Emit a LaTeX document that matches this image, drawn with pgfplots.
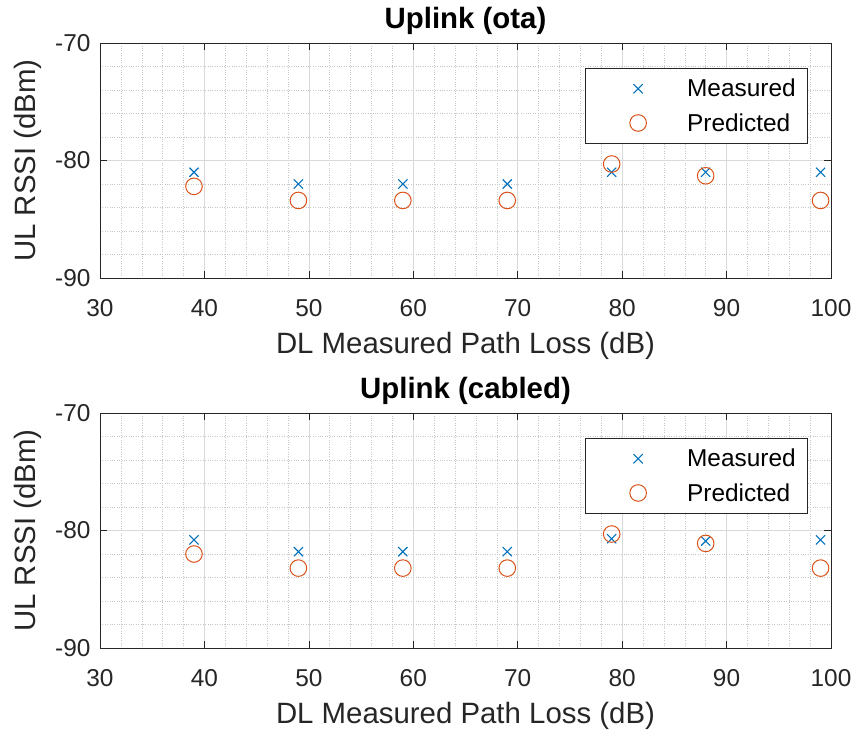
\documentclass[border=0pt]{standalone}
\usepackage{pgfplots}
\pgfplotsset{compat=1.18}
\usepackage{fontspec}
\setmainfont{Liberation Sans}
\definecolor{mblue}{HTML}{0072BD}
\definecolor{morange}{HTML}{D95319}
\definecolor{axgray}{HTML}{262626}
\pgfplotstableread{
x meas pred
39 -81.0 -82.2
49 -82.0 -83.4
59 -82.0 -83.4
69 -82.0 -83.4
79 -81.0 -80.3
88 -81.0 -81.3
99 -81.0 -83.4
}\ota
\pgfplotstableread{
x meas pred
39 -80.8 -82.0
49 -81.8 -83.2
59 -81.8 -83.2
69 -81.8 -83.2
79 -80.7 -80.3
88 -80.9 -81.1
99 -80.8 -83.2
}\cabled
\pgfplotsset{
  mystyle/.style={
    scale only axis, width=731bp, height=235bp,
    xmin=30, xmax=100, ymin=-90, ymax=-70,
    xtick={30,40,...,100}, ytick={-90,-80,-70},
    minor x tick num=4, minor y tick num=4,
    grid=both,
    major grid style={color=black!15, line width=0.5pt},
    minor grid style={color=black!22, dotted, line width=0.5pt},
    axis line style={color=axgray, line width=0.6pt},
    tick style={color=axgray, line width=0.6pt},
    major tick length=7bp, minor tick length=0pt,
    tick align=inside,
    xtick pos=both, ytick pos=both,
    tick label style={font=\fontsize{24.5}{28}\selectfont, text=axgray},
    /pgf/number format/assume math mode=true,
    xticklabel style={anchor=base, yshift=-38bp},
    yticklabel style={xshift=-6bp},
    label style={font=\fontsize{29.5}{33}\selectfont, text=axgray},
    xlabel={DL Measured Path Loss (dB)},
    ylabel={UL RSSI (dBm)},
    xlabel style={at={(axis description cs:0.5,-0.29)}, anchor=center},
    ylabel style={at={(axis description cs:-0.098,0.5)}, anchor=center, rotate=0},
    title style={font=\bfseries\fontsize{29.5}{33}\selectfont, at={(axis description cs:0.5,1)}, anchor=base, yshift=9bp},
    legend style={at={(axis description cs:0.9685,0.894)}, anchor=north east,
      font=\fontsize{24.5}{28}\selectfont, draw=axgray, line width=0.6pt, text=black,
      row sep=1bp, inner xsep=5bp, inner ysep=4bp,
      nodes={inner sep=7bp},
      /tikz/every even column/.append style={column sep=0bp}},
    legend cell align=left,
    legend image code/.code={\path[draw=none] (0bp,0bp) -- (90bp,0bp); \draw[#1] plot coordinates {(48bp,0bp)};},
  },
  meas/.style={only marks, mark=x, mark size=6.5bp, color=mblue, line width=1.1pt},
  pred/.style={only marks, mark=o, mark size=8.3bp, color=morange, line width=1pt},
}
\begin{document}
\begin{tikzpicture}
\begin{axis}[mystyle, at={(0bp,0bp)}, anchor=south west, title={Uplink (ota)}]
\addplot[meas] table[x=x,y=meas] {\ota};
\addlegendentry{Measured}
\addplot[pred] table[x=x,y=pred] {\ota};
\addlegendentry{Predicted}
\end{axis}
\begin{axis}[mystyle, at={(0bp,-370bp)}, anchor=south west, title={Uplink (cabled)}]
\addplot[meas] table[x=x,y=meas] {\cabled};
\addlegendentry{Measured}
\addplot[pred] table[x=x,y=pred] {\cabled};
\addlegendentry{Predicted}
\end{axis}
\pgfresetboundingbox
\path[use as bounding box] (-100bp,-456bp) rectangle (751bp,278bp);
\end{tikzpicture}
\end{document}
